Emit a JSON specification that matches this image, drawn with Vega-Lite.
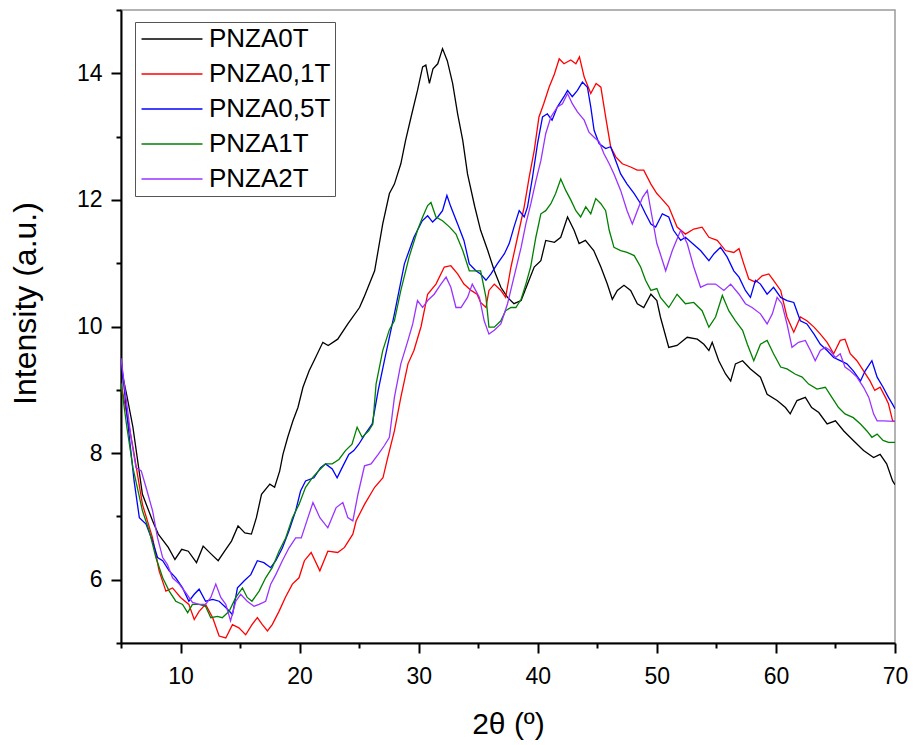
{
"$schema":"https://vega.github.io/schema/vega-lite/v6.json",
"width":774,"height":633,
"autosize":{"type":"none"},
"padding":{"left":121,"top":10,"right":20,"bottom":102},
"background":"white",
"config":{"font":"Liberation Sans","view":{"stroke":"#9a9a9a","strokeWidth":1.5}},
"data":{"values":[
{"s":"PNZA0T","x":5,"y":9.35},{"s":"PNZA0T","x":5.5,"y":8.9},{"s":"PNZA0T","x":6,"y":8.41},{"s":"PNZA0T","x":6.8,"y":7.35},{"s":"PNZA0T","x":7.65,"y":6.93},{"s":"PNZA0T","x":8.13,"y":6.72},{"s":"PNZA0T","x":8.97,"y":6.51},{"s":"PNZA0T","x":9.53,"y":6.32},{"s":"PNZA0T","x":10.1,"y":6.48},{"s":"PNZA0T","x":10.65,"y":6.45},{"s":"PNZA0T","x":11.34,"y":6.27},{"s":"PNZA0T","x":11.9,"y":6.53},{"s":"PNZA0T","x":12.6,"y":6.4},{"s":"PNZA0T","x":13.16,"y":6.3},{"s":"PNZA0T","x":13.7,"y":6.45},{"s":"PNZA0T","x":14.28,"y":6.61},{"s":"PNZA0T","x":14.83,"y":6.85},{"s":"PNZA0T","x":15.4,"y":6.74},{"s":"PNZA0T","x":15.95,"y":6.72},{"s":"PNZA0T","x":16.37,"y":6.98},{"s":"PNZA0T","x":16.8,"y":7.35},{"s":"PNZA0T","x":17.5,"y":7.51},{"s":"PNZA0T","x":17.9,"y":7.46},{"s":"PNZA0T","x":18.33,"y":7.72},{"s":"PNZA0T","x":18.6,"y":7.98},{"s":"PNZA0T","x":19.0,"y":8.25},{"s":"PNZA0T","x":19.44,"y":8.51},{"s":"PNZA0T","x":19.86,"y":8.72},{"s":"PNZA0T","x":20.28,"y":9.04},{"s":"PNZA0T","x":20.8,"y":9.3},{"s":"PNZA0T","x":21.26,"y":9.48},{"s":"PNZA0T","x":21.95,"y":9.75},{"s":"PNZA0T","x":22.4,"y":9.7},{"s":"PNZA0T","x":23.2,"y":9.8},{"s":"PNZA0T","x":24.05,"y":10.04},{"s":"PNZA0T","x":25.03,"y":10.3},{"s":"PNZA0T","x":25.4,"y":10.46},{"s":"PNZA0T","x":26.3,"y":10.88},{"s":"PNZA0T","x":26.98,"y":11.62},{"s":"PNZA0T","x":27.54,"y":12.1},{"s":"PNZA0T","x":27.96,"y":12.25},{"s":"PNZA0T","x":28.5,"y":12.57},{"s":"PNZA0T","x":28.9,"y":12.94},{"s":"PNZA0T","x":29.36,"y":13.31},{"s":"PNZA0T","x":29.9,"y":13.73},{"s":"PNZA0T","x":30.33,"y":14.1},{"s":"PNZA0T","x":30.6,"y":14.13},{"s":"PNZA0T","x":30.9,"y":13.84},{"s":"PNZA0T","x":31.2,"y":14.07},{"s":"PNZA0T","x":31.6,"y":14.15},{"s":"PNZA0T","x":32.0,"y":14.39},{"s":"PNZA0T","x":32.4,"y":14.2},{"s":"PNZA0T","x":32.85,"y":13.84},{"s":"PNZA0T","x":33.27,"y":13.36},{"s":"PNZA0T","x":33.7,"y":12.94},{"s":"PNZA0T","x":34.1,"y":12.41},{"s":"PNZA0T","x":34.7,"y":11.9},{"s":"PNZA0T","x":35.2,"y":11.52},{"s":"PNZA0T","x":35.8,"y":11.2},{"s":"PNZA0T","x":36.35,"y":10.88},{"s":"PNZA0T","x":36.9,"y":10.62},{"s":"PNZA0T","x":37.46,"y":10.46},{"s":"PNZA0T","x":38.0,"y":10.36},{"s":"PNZA0T","x":38.6,"y":10.41},{"s":"PNZA0T","x":39.14,"y":10.67},{"s":"PNZA0T","x":39.7,"y":10.94},{"s":"PNZA0T","x":40.26,"y":11.04},{"s":"PNZA0T","x":40.67,"y":11.36},{"s":"PNZA0T","x":41.4,"y":11.33},{"s":"PNZA0T","x":41.93,"y":11.41},{"s":"PNZA0T","x":42.5,"y":11.73},{"s":"PNZA0T","x":43.05,"y":11.52},{"s":"PNZA0T","x":43.47,"y":11.31},{"s":"PNZA0T","x":44.0,"y":11.36},{"s":"PNZA0T","x":44.7,"y":11.2},{"s":"PNZA0T","x":45.3,"y":10.94},{"s":"PNZA0T","x":45.84,"y":10.67},{"s":"PNZA0T","x":46.26,"y":10.43},{"s":"PNZA0T","x":46.68,"y":10.57},{"s":"PNZA0T","x":47.24,"y":10.65},{"s":"PNZA0T","x":47.8,"y":10.57},{"s":"PNZA0T","x":48.36,"y":10.36},{"s":"PNZA0T","x":48.9,"y":10.3},{"s":"PNZA0T","x":49.5,"y":10.51},{"s":"PNZA0T","x":50.0,"y":10.41},{"s":"PNZA0T","x":50.3,"y":10.15},{"s":"PNZA0T","x":51.0,"y":9.67},{"s":"PNZA0T","x":51.7,"y":9.7},{"s":"PNZA0T","x":52.55,"y":9.83},{"s":"PNZA0T","x":53.4,"y":9.8},{"s":"PNZA0T","x":53.95,"y":9.72},{"s":"PNZA0T","x":54.37,"y":9.62},{"s":"PNZA0T","x":54.65,"y":9.75},{"s":"PNZA0T","x":55.2,"y":9.46},{"s":"PNZA0T","x":55.77,"y":9.25},{"s":"PNZA0T","x":56.2,"y":9.14},{"s":"PNZA0T","x":56.6,"y":9.41},{"s":"PNZA0T","x":57.2,"y":9.46},{"s":"PNZA0T","x":57.86,"y":9.33},{"s":"PNZA0T","x":58.7,"y":9.2},{"s":"PNZA0T","x":59.26,"y":8.93},{"s":"PNZA0T","x":60.1,"y":8.83},{"s":"PNZA0T","x":60.8,"y":8.72},{"s":"PNZA0T","x":61.2,"y":8.62},{"s":"PNZA0T","x":61.77,"y":8.83},{"s":"PNZA0T","x":62.47,"y":8.88},{"s":"PNZA0T","x":63.0,"y":8.72},{"s":"PNZA0T","x":63.6,"y":8.64},{"s":"PNZA0T","x":64.3,"y":8.46},{"s":"PNZA0T","x":65.0,"y":8.51},{"s":"PNZA0T","x":65.7,"y":8.35},{"s":"PNZA0T","x":66.5,"y":8.2},{"s":"PNZA0T","x":67.36,"y":8.04},{"s":"PNZA0T","x":68.2,"y":7.93},{"s":"PNZA0T","x":68.75,"y":7.98},{"s":"PNZA0T","x":69.3,"y":7.83},{"s":"PNZA0T","x":69.8,"y":7.56},{"s":"PNZA0T","x":70,"y":7.5},
{"s":"PNZA0,1T","x":5,"y":9.1},{"s":"PNZA0,1T","x":5.5,"y":8.6},{"s":"PNZA0,1T","x":6,"y":8.1},{"s":"PNZA0,1T","x":6.8,"y":7.19},{"s":"PNZA0,1T","x":7.65,"y":6.66},{"s":"PNZA0,1T","x":8.2,"y":6.14},{"s":"PNZA0,1T","x":8.77,"y":5.82},{"s":"PNZA0,1T","x":9.33,"y":5.87},{"s":"PNZA0,1T","x":10.0,"y":5.72},{"s":"PNZA0,1T","x":10.7,"y":5.61},{"s":"PNZA0,1T","x":11.15,"y":5.37},{"s":"PNZA0,1T","x":11.56,"y":5.5},{"s":"PNZA0,1T","x":12.1,"y":5.61},{"s":"PNZA0,1T","x":12.7,"y":5.4},{"s":"PNZA0,1T","x":13.24,"y":5.11},{"s":"PNZA0,1T","x":13.8,"y":5.08},{"s":"PNZA0,1T","x":14.36,"y":5.29},{"s":"PNZA0,1T","x":14.9,"y":5.24},{"s":"PNZA0,1T","x":15.47,"y":5.13},{"s":"PNZA0,1T","x":16.0,"y":5.29},{"s":"PNZA0,1T","x":16.45,"y":5.4},{"s":"PNZA0,1T","x":16.87,"y":5.29},{"s":"PNZA0,1T","x":17.3,"y":5.19},{"s":"PNZA0,1T","x":17.7,"y":5.29},{"s":"PNZA0,1T","x":18.27,"y":5.5},{"s":"PNZA0,1T","x":18.8,"y":5.72},{"s":"PNZA0,1T","x":19.39,"y":5.93},{"s":"PNZA0,1T","x":19.95,"y":6.03},{"s":"PNZA0,1T","x":20.4,"y":6.3},{"s":"PNZA0,1T","x":20.97,"y":6.43},{"s":"PNZA0,1T","x":21.7,"y":6.14},{"s":"PNZA0,1T","x":22.37,"y":6.45},{"s":"PNZA0,1T","x":23.2,"y":6.43},{"s":"PNZA0,1T","x":23.77,"y":6.51},{"s":"PNZA0,1T","x":24.47,"y":6.72},{"s":"PNZA0,1T","x":24.75,"y":6.93},{"s":"PNZA0,1T","x":25.45,"y":7.19},{"s":"PNZA0,1T","x":26.3,"y":7.46},{"s":"PNZA0,1T","x":27.0,"y":7.61},{"s":"PNZA0,1T","x":27.4,"y":7.93},{"s":"PNZA0,1T","x":27.96,"y":8.35},{"s":"PNZA0,1T","x":28.5,"y":8.88},{"s":"PNZA0,1T","x":29.1,"y":9.41},{"s":"PNZA0,1T","x":29.6,"y":9.62},{"s":"PNZA0,1T","x":30.2,"y":10.0},{"s":"PNZA0,1T","x":30.75,"y":10.51},{"s":"PNZA0,1T","x":31.45,"y":10.67},{"s":"PNZA0,1T","x":32.15,"y":10.94},{"s":"PNZA0,1T","x":32.7,"y":10.96},{"s":"PNZA0,1T","x":33.27,"y":10.83},{"s":"PNZA0,1T","x":33.8,"y":10.67},{"s":"PNZA0,1T","x":34.4,"y":10.57},{"s":"PNZA0,1T","x":34.9,"y":10.51},{"s":"PNZA0,1T","x":35.2,"y":10.38},{"s":"PNZA0,1T","x":35.65,"y":10.3},{"s":"PNZA0,1T","x":35.9,"y":10.57},{"s":"PNZA0,1T","x":36.35,"y":10.67},{"s":"PNZA0,1T","x":36.9,"y":10.57},{"s":"PNZA0,1T","x":37.3,"y":10.46},{"s":"PNZA0,1T","x":37.75,"y":10.94},{"s":"PNZA0,1T","x":38.3,"y":11.41},{"s":"PNZA0,1T","x":38.86,"y":11.89},{"s":"PNZA0,1T","x":39.28,"y":12.36},{"s":"PNZA0,1T","x":39.7,"y":12.78},{"s":"PNZA0,1T","x":40.1,"y":13.31},{"s":"PNZA0,1T","x":40.5,"y":13.52},{"s":"PNZA0,1T","x":40.95,"y":13.78},{"s":"PNZA0,1T","x":41.4,"y":13.99},{"s":"PNZA0,1T","x":41.8,"y":14.23},{"s":"PNZA0,1T","x":42.2,"y":14.15},{"s":"PNZA0,1T","x":42.77,"y":14.21},{"s":"PNZA0,1T","x":43.2,"y":14.15},{"s":"PNZA0,1T","x":43.5,"y":14.26},{"s":"PNZA0,1T","x":43.9,"y":13.94},{"s":"PNZA0,1T","x":44.45,"y":13.68},{"s":"PNZA0,1T","x":44.9,"y":13.84},{"s":"PNZA0,1T","x":45.3,"y":13.78},{"s":"PNZA0,1T","x":45.7,"y":13.31},{"s":"PNZA0,1T","x":46.12,"y":12.84},{"s":"PNZA0,1T","x":46.55,"y":12.68},{"s":"PNZA0,1T","x":47.1,"y":12.57},{"s":"PNZA0,1T","x":47.8,"y":12.52},{"s":"PNZA0,1T","x":48.35,"y":12.47},{"s":"PNZA0,1T","x":48.9,"y":12.47},{"s":"PNZA0,1T","x":49.5,"y":12.25},{"s":"PNZA0,1T","x":50.0,"y":12.1},{"s":"PNZA0,1T","x":50.3,"y":12.04},{"s":"PNZA0,1T","x":51.0,"y":11.89},{"s":"PNZA0,1T","x":51.7,"y":11.57},{"s":"PNZA0,1T","x":52.4,"y":11.46},{"s":"PNZA0,1T","x":53.1,"y":11.54},{"s":"PNZA0,1T","x":53.8,"y":11.57},{"s":"PNZA0,1T","x":54.37,"y":11.41},{"s":"PNZA0,1T","x":55.07,"y":11.36},{"s":"PNZA0,1T","x":55.76,"y":11.2},{"s":"PNZA0,1T","x":56.46,"y":11.17},{"s":"PNZA0,1T","x":56.9,"y":11.23},{"s":"PNZA0,1T","x":57.3,"y":10.99},{"s":"PNZA0,1T","x":57.72,"y":10.75},{"s":"PNZA0,1T","x":58.28,"y":10.7},{"s":"PNZA0,1T","x":58.84,"y":10.8},{"s":"PNZA0,1T","x":59.4,"y":10.83},{"s":"PNZA0,1T","x":59.8,"y":10.73},{"s":"PNZA0,1T","x":60.4,"y":10.57},{"s":"PNZA0,1T","x":60.93,"y":10.15},{"s":"PNZA0,1T","x":61.5,"y":9.91},{"s":"PNZA0,1T","x":62.05,"y":10.15},{"s":"PNZA0,1T","x":62.6,"y":10.09},{"s":"PNZA0,1T","x":63.2,"y":9.99},{"s":"PNZA0,1T","x":63.73,"y":9.88},{"s":"PNZA0,1T","x":64.3,"y":9.75},{"s":"PNZA0,1T","x":64.85,"y":9.57},{"s":"PNZA0,1T","x":65.4,"y":9.78},{"s":"PNZA0,1T","x":65.8,"y":9.8},{"s":"PNZA0,1T","x":66.24,"y":9.57},{"s":"PNZA0,1T","x":66.8,"y":9.46},{"s":"PNZA0,1T","x":67.36,"y":9.3},{"s":"PNZA0,1T","x":67.9,"y":9.14},{"s":"PNZA0,1T","x":68.3,"y":8.99},{"s":"PNZA0,1T","x":68.75,"y":9.04},{"s":"PNZA0,1T","x":69.2,"y":8.88},{"s":"PNZA0,1T","x":69.45,"y":8.78},{"s":"PNZA0,1T","x":69.8,"y":8.51},{"s":"PNZA0,1T","x":70,"y":8.5},
{"s":"PNZA0,5T","x":5,"y":9.5},{"s":"PNZA0,5T","x":5.7,"y":8.25},{"s":"PNZA0,5T","x":6.1,"y":7.56},{"s":"PNZA0,5T","x":6.54,"y":6.98},{"s":"PNZA0,5T","x":7.1,"y":6.88},{"s":"PNZA0,5T","x":7.65,"y":6.61},{"s":"PNZA0,5T","x":8.07,"y":6.35},{"s":"PNZA0,5T","x":8.5,"y":6.3},{"s":"PNZA0,5T","x":9.05,"y":6.14},{"s":"PNZA0,5T","x":9.6,"y":6.03},{"s":"PNZA0,5T","x":10.17,"y":5.87},{"s":"PNZA0,5T","x":10.7,"y":5.66},{"s":"PNZA0,5T","x":11.15,"y":5.77},{"s":"PNZA0,5T","x":11.56,"y":5.85},{"s":"PNZA0,5T","x":12.1,"y":5.66},{"s":"PNZA0,5T","x":12.7,"y":5.69},{"s":"PNZA0,5T","x":13.24,"y":5.66},{"s":"PNZA0,5T","x":13.8,"y":5.56},{"s":"PNZA0,5T","x":14.36,"y":5.45},{"s":"PNZA0,5T","x":14.78,"y":5.87},{"s":"PNZA0,5T","x":15.33,"y":5.98},{"s":"PNZA0,5T","x":15.9,"y":6.08},{"s":"PNZA0,5T","x":16.45,"y":6.3},{"s":"PNZA0,5T","x":17.0,"y":6.27},{"s":"PNZA0,5T","x":17.57,"y":6.19},{"s":"PNZA0,5T","x":18.0,"y":6.3},{"s":"PNZA0,5T","x":18.55,"y":6.5},{"s":"PNZA0,5T","x":19.1,"y":6.77},{"s":"PNZA0,5T","x":19.67,"y":7.09},{"s":"PNZA0,5T","x":20.08,"y":7.4},{"s":"PNZA0,5T","x":20.5,"y":7.56},{"s":"PNZA0,5T","x":21.2,"y":7.61},{"s":"PNZA0,5T","x":21.76,"y":7.77},{"s":"PNZA0,5T","x":22.18,"y":7.83},{"s":"PNZA0,5T","x":22.74,"y":7.75},{"s":"PNZA0,5T","x":23.15,"y":7.61},{"s":"PNZA0,5T","x":23.57,"y":7.77},{"s":"PNZA0,5T","x":24.13,"y":7.98},{"s":"PNZA0,5T","x":24.55,"y":8.04},{"s":"PNZA0,5T","x":24.97,"y":8.14},{"s":"PNZA0,5T","x":25.5,"y":8.3},{"s":"PNZA0,5T","x":26.1,"y":8.46},{"s":"PNZA0,5T","x":26.6,"y":8.99},{"s":"PNZA0,5T","x":27.12,"y":9.46},{"s":"PNZA0,5T","x":27.96,"y":10.2},{"s":"PNZA0,5T","x":28.8,"y":10.99},{"s":"PNZA0,5T","x":29.6,"y":11.41},{"s":"PNZA0,5T","x":30.3,"y":11.67},{"s":"PNZA0,5T","x":30.75,"y":11.75},{"s":"PNZA0,5T","x":31.17,"y":11.65},{"s":"PNZA0,5T","x":31.6,"y":11.73},{"s":"PNZA0,5T","x":32.0,"y":11.83},{"s":"PNZA0,5T","x":32.37,"y":12.07},{"s":"PNZA0,5T","x":32.7,"y":11.89},{"s":"PNZA0,5T","x":33.27,"y":11.62},{"s":"PNZA0,5T","x":33.8,"y":11.36},{"s":"PNZA0,5T","x":34.25,"y":10.99},{"s":"PNZA0,5T","x":34.8,"y":10.88},{"s":"PNZA0,5T","x":35.2,"y":10.83},{"s":"PNZA0,5T","x":35.65,"y":10.73},{"s":"PNZA0,5T","x":36.07,"y":10.83},{"s":"PNZA0,5T","x":36.6,"y":10.99},{"s":"PNZA0,5T","x":37.2,"y":11.15},{"s":"PNZA0,5T","x":37.6,"y":11.31},{"s":"PNZA0,5T","x":38.0,"y":11.57},{"s":"PNZA0,5T","x":38.44,"y":11.83},{"s":"PNZA0,5T","x":38.86,"y":11.73},{"s":"PNZA0,5T","x":39.14,"y":11.89},{"s":"PNZA0,5T","x":39.56,"y":12.36},{"s":"PNZA0,5T","x":39.98,"y":12.89},{"s":"PNZA0,5T","x":40.4,"y":13.31},{"s":"PNZA0,5T","x":40.8,"y":13.36},{"s":"PNZA0,5T","x":41.2,"y":13.26},{"s":"PNZA0,5T","x":41.65,"y":13.47},{"s":"PNZA0,5T","x":42.2,"y":13.63},{"s":"PNZA0,5T","x":42.5,"y":13.73},{"s":"PNZA0,5T","x":42.9,"y":13.63},{"s":"PNZA0,5T","x":43.33,"y":13.73},{"s":"PNZA0,5T","x":43.75,"y":13.86},{"s":"PNZA0,5T","x":44.17,"y":13.78},{"s":"PNZA0,5T","x":44.45,"y":13.47},{"s":"PNZA0,5T","x":44.73,"y":13.1},{"s":"PNZA0,5T","x":45.15,"y":12.89},{"s":"PNZA0,5T","x":45.7,"y":12.81},{"s":"PNZA0,5T","x":46.12,"y":12.84},{"s":"PNZA0,5T","x":46.55,"y":12.62},{"s":"PNZA0,5T","x":46.96,"y":12.41},{"s":"PNZA0,5T","x":47.5,"y":12.25},{"s":"PNZA0,5T","x":48.1,"y":12.1},{"s":"PNZA0,5T","x":48.64,"y":11.94},{"s":"PNZA0,5T","x":49.05,"y":11.78},{"s":"PNZA0,5T","x":49.5,"y":11.62},{"s":"PNZA0,5T","x":49.9,"y":11.57},{"s":"PNZA0,5T","x":50.46,"y":11.78},{"s":"PNZA0,5T","x":51.0,"y":11.73},{"s":"PNZA0,5T","x":51.4,"y":11.52},{"s":"PNZA0,5T","x":52.0,"y":11.36},{"s":"PNZA0,5T","x":52.4,"y":11.41},{"s":"PNZA0,5T","x":53.0,"y":11.31},{"s":"PNZA0,5T","x":53.67,"y":11.2},{"s":"PNZA0,5T","x":54.37,"y":11.04},{"s":"PNZA0,5T","x":54.8,"y":11.15},{"s":"PNZA0,5T","x":55.35,"y":11.25},{"s":"PNZA0,5T","x":55.9,"y":11.1},{"s":"PNZA0,5T","x":56.46,"y":10.88},{"s":"PNZA0,5T","x":56.9,"y":10.78},{"s":"PNZA0,5T","x":57.44,"y":10.57},{"s":"PNZA0,5T","x":57.86,"y":10.46},{"s":"PNZA0,5T","x":58.28,"y":10.73},{"s":"PNZA0,5T","x":58.7,"y":10.67},{"s":"PNZA0,5T","x":59.26,"y":10.51},{"s":"PNZA0,5T","x":59.8,"y":10.62},{"s":"PNZA0,5T","x":60.4,"y":10.46},{"s":"PNZA0,5T","x":60.93,"y":10.41},{"s":"PNZA0,5T","x":61.5,"y":10.38},{"s":"PNZA0,5T","x":62.05,"y":10.09},{"s":"PNZA0,5T","x":62.6,"y":10.04},{"s":"PNZA0,5T","x":63.2,"y":9.88},{"s":"PNZA0,5T","x":63.73,"y":9.72},{"s":"PNZA0,5T","x":64.3,"y":9.62},{"s":"PNZA0,5T","x":64.85,"y":9.51},{"s":"PNZA0,5T","x":65.4,"y":9.46},{"s":"PNZA0,5T","x":65.96,"y":9.41},{"s":"PNZA0,5T","x":66.5,"y":9.3},{"s":"PNZA0,5T","x":67.1,"y":9.14},{"s":"PNZA0,5T","x":67.5,"y":9.3},{"s":"PNZA0,5T","x":68.06,"y":9.46},{"s":"PNZA0,5T","x":68.5,"y":9.2},{"s":"PNZA0,5T","x":69.0,"y":9.04},{"s":"PNZA0,5T","x":69.45,"y":8.88},{"s":"PNZA0,5T","x":69.8,"y":8.77},{"s":"PNZA0,5T","x":70,"y":8.7},
{"s":"PNZA1T","x":5,"y":9.1},{"s":"PNZA1T","x":5.5,"y":8.4},{"s":"PNZA1T","x":6.0,"y":7.77},{"s":"PNZA1T","x":6.8,"y":7.09},{"s":"PNZA1T","x":7.37,"y":6.77},{"s":"PNZA1T","x":7.93,"y":6.35},{"s":"PNZA1T","x":8.5,"y":6.03},{"s":"PNZA1T","x":9.05,"y":5.82},{"s":"PNZA1T","x":9.6,"y":5.66},{"s":"PNZA1T","x":10.17,"y":5.61},{"s":"PNZA1T","x":10.6,"y":5.48},{"s":"PNZA1T","x":11.0,"y":5.61},{"s":"PNZA1T","x":11.56,"y":5.61},{"s":"PNZA1T","x":12.1,"y":5.58},{"s":"PNZA1T","x":12.54,"y":5.4},{"s":"PNZA1T","x":13.1,"y":5.42},{"s":"PNZA1T","x":13.5,"y":5.4},{"s":"PNZA1T","x":14.08,"y":5.5},{"s":"PNZA1T","x":14.64,"y":5.72},{"s":"PNZA1T","x":15.2,"y":5.87},{"s":"PNZA1T","x":15.6,"y":5.72},{"s":"PNZA1T","x":16.0,"y":5.66},{"s":"PNZA1T","x":16.6,"y":5.82},{"s":"PNZA1T","x":17.15,"y":6.03},{"s":"PNZA1T","x":17.7,"y":6.19},{"s":"PNZA1T","x":18.27,"y":6.45},{"s":"PNZA1T","x":18.83,"y":6.66},{"s":"PNZA1T","x":19.4,"y":6.98},{"s":"PNZA1T","x":19.95,"y":7.19},{"s":"PNZA1T","x":20.5,"y":7.46},{"s":"PNZA1T","x":21.06,"y":7.61},{"s":"PNZA1T","x":21.6,"y":7.72},{"s":"PNZA1T","x":22.18,"y":7.83},{"s":"PNZA1T","x":22.74,"y":7.83},{"s":"PNZA1T","x":23.3,"y":7.9},{"s":"PNZA1T","x":23.85,"y":8.04},{"s":"PNZA1T","x":24.4,"y":8.14},{"s":"PNZA1T","x":24.83,"y":8.41},{"s":"PNZA1T","x":25.25,"y":8.25},{"s":"PNZA1T","x":25.8,"y":8.35},{"s":"PNZA1T","x":26.15,"y":8.46},{"s":"PNZA1T","x":26.42,"y":9.09},{"s":"PNZA1T","x":26.98,"y":9.62},{"s":"PNZA1T","x":27.54,"y":9.95},{"s":"PNZA1T","x":27.96,"y":10.09},{"s":"PNZA1T","x":28.5,"y":10.57},{"s":"PNZA1T","x":29.2,"y":11.1},{"s":"PNZA1T","x":29.9,"y":11.52},{"s":"PNZA1T","x":30.33,"y":11.73},{"s":"PNZA1T","x":30.75,"y":11.91},{"s":"PNZA1T","x":31.03,"y":11.96},{"s":"PNZA1T","x":31.45,"y":11.73},{"s":"PNZA1T","x":32.0,"y":11.67},{"s":"PNZA1T","x":32.6,"y":11.57},{"s":"PNZA1T","x":33.13,"y":11.46},{"s":"PNZA1T","x":33.7,"y":11.2},{"s":"PNZA1T","x":34.25,"y":10.88},{"s":"PNZA1T","x":34.8,"y":10.88},{"s":"PNZA1T","x":35.2,"y":10.88},{"s":"PNZA1T","x":35.65,"y":10.46},{"s":"PNZA1T","x":35.9,"y":9.99},{"s":"PNZA1T","x":36.35,"y":9.99},{"s":"PNZA1T","x":36.9,"y":10.09},{"s":"PNZA1T","x":37.3,"y":10.25},{"s":"PNZA1T","x":37.75,"y":10.3},{"s":"PNZA1T","x":38.16,"y":10.3},{"s":"PNZA1T","x":38.6,"y":10.43},{"s":"PNZA1T","x":39.0,"y":10.67},{"s":"PNZA1T","x":39.4,"y":10.94},{"s":"PNZA1T","x":39.84,"y":11.41},{"s":"PNZA1T","x":40.26,"y":11.78},{"s":"PNZA1T","x":40.67,"y":11.83},{"s":"PNZA1T","x":41.1,"y":11.94},{"s":"PNZA1T","x":41.5,"y":12.1},{"s":"PNZA1T","x":41.93,"y":12.33},{"s":"PNZA1T","x":42.35,"y":12.15},{"s":"PNZA1T","x":42.77,"y":12.0},{"s":"PNZA1T","x":43.2,"y":11.83},{"s":"PNZA1T","x":43.6,"y":11.73},{"s":"PNZA1T","x":44.03,"y":11.89},{"s":"PNZA1T","x":44.45,"y":11.78},{"s":"PNZA1T","x":44.87,"y":12.02},{"s":"PNZA1T","x":45.3,"y":11.94},{"s":"PNZA1T","x":45.7,"y":11.83},{"s":"PNZA1T","x":46.0,"y":11.52},{"s":"PNZA1T","x":46.4,"y":11.25},{"s":"PNZA1T","x":46.96,"y":11.2},{"s":"PNZA1T","x":47.5,"y":11.17},{"s":"PNZA1T","x":48.1,"y":11.12},{"s":"PNZA1T","x":48.64,"y":10.94},{"s":"PNZA1T","x":49.05,"y":10.73},{"s":"PNZA1T","x":49.5,"y":10.57},{"s":"PNZA1T","x":50.0,"y":10.6},{"s":"PNZA1T","x":50.3,"y":10.46},{"s":"PNZA1T","x":51.0,"y":10.3},{"s":"PNZA1T","x":51.7,"y":10.51},{"s":"PNZA1T","x":52.4,"y":10.36},{"s":"PNZA1T","x":53.1,"y":10.38},{"s":"PNZA1T","x":53.8,"y":10.25},{"s":"PNZA1T","x":54.37,"y":9.99},{"s":"PNZA1T","x":54.93,"y":10.15},{"s":"PNZA1T","x":55.5,"y":10.49},{"s":"PNZA1T","x":56.04,"y":10.25},{"s":"PNZA1T","x":56.6,"y":10.09},{"s":"PNZA1T","x":57.2,"y":9.94},{"s":"PNZA1T","x":57.6,"y":9.72},{"s":"PNZA1T","x":58.14,"y":9.46},{"s":"PNZA1T","x":58.7,"y":9.72},{"s":"PNZA1T","x":59.26,"y":9.78},{"s":"PNZA1T","x":59.8,"y":9.57},{"s":"PNZA1T","x":60.4,"y":9.36},{"s":"PNZA1T","x":60.93,"y":9.33},{"s":"PNZA1T","x":61.6,"y":9.25},{"s":"PNZA1T","x":62.2,"y":9.2},{"s":"PNZA1T","x":62.75,"y":9.09},{"s":"PNZA1T","x":63.45,"y":9.01},{"s":"PNZA1T","x":64.15,"y":9.04},{"s":"PNZA1T","x":64.7,"y":8.88},{"s":"PNZA1T","x":65.26,"y":8.72},{"s":"PNZA1T","x":65.8,"y":8.62},{"s":"PNZA1T","x":66.5,"y":8.56},{"s":"PNZA1T","x":67.1,"y":8.46},{"s":"PNZA1T","x":67.64,"y":8.35},{"s":"PNZA1T","x":68.06,"y":8.25},{"s":"PNZA1T","x":68.5,"y":8.3},{"s":"PNZA1T","x":69.0,"y":8.2},{"s":"PNZA1T","x":69.45,"y":8.17},{"s":"PNZA1T","x":70,"y":8.17},
{"s":"PNZA2T","x":5,"y":9.5},{"s":"PNZA2T","x":5.84,"y":8.25},{"s":"PNZA2T","x":6.26,"y":7.77},{"s":"PNZA2T","x":6.7,"y":7.72},{"s":"PNZA2T","x":7.1,"y":7.46},{"s":"PNZA2T","x":7.65,"y":7.09},{"s":"PNZA2T","x":8.07,"y":6.66},{"s":"PNZA2T","x":8.5,"y":6.35},{"s":"PNZA2T","x":8.9,"y":6.24},{"s":"PNZA2T","x":9.33,"y":6.03},{"s":"PNZA2T","x":9.9,"y":5.93},{"s":"PNZA2T","x":10.45,"y":5.79},{"s":"PNZA2T","x":11.0,"y":5.64},{"s":"PNZA2T","x":11.56,"y":5.61},{"s":"PNZA2T","x":12.1,"y":5.61},{"s":"PNZA2T","x":12.54,"y":5.72},{"s":"PNZA2T","x":12.96,"y":5.93},{"s":"PNZA2T","x":13.38,"y":5.72},{"s":"PNZA2T","x":13.8,"y":5.61},{"s":"PNZA2T","x":14.2,"y":5.35},{"s":"PNZA2T","x":14.64,"y":5.66},{"s":"PNZA2T","x":15.05,"y":5.77},{"s":"PNZA2T","x":15.6,"y":5.66},{"s":"PNZA2T","x":16.17,"y":5.58},{"s":"PNZA2T","x":16.6,"y":5.61},{"s":"PNZA2T","x":17.15,"y":5.66},{"s":"PNZA2T","x":17.57,"y":5.93},{"s":"PNZA2T","x":18.0,"y":6.08},{"s":"PNZA2T","x":18.55,"y":6.3},{"s":"PNZA2T","x":19.1,"y":6.5},{"s":"PNZA2T","x":19.67,"y":6.66},{"s":"PNZA2T","x":20.14,"y":6.66},{"s":"PNZA2T","x":20.7,"y":6.98},{"s":"PNZA2T","x":21.12,"y":7.22},{"s":"PNZA2T","x":21.7,"y":6.98},{"s":"PNZA2T","x":22.37,"y":6.82},{"s":"PNZA2T","x":23.07,"y":7.14},{"s":"PNZA2T","x":23.63,"y":7.22},{"s":"PNZA2T","x":24.05,"y":6.98},{"s":"PNZA2T","x":24.47,"y":6.93},{"s":"PNZA2T","x":24.9,"y":7.35},{"s":"PNZA2T","x":25.45,"y":7.8},{"s":"PNZA2T","x":26.0,"y":7.83},{"s":"PNZA2T","x":26.6,"y":7.98},{"s":"PNZA2T","x":27.12,"y":8.12},{"s":"PNZA2T","x":27.54,"y":8.25},{"s":"PNZA2T","x":27.96,"y":8.88},{"s":"PNZA2T","x":28.5,"y":9.41},{"s":"PNZA2T","x":29.1,"y":9.78},{"s":"PNZA2T","x":29.5,"y":10.04},{"s":"PNZA2T","x":29.9,"y":10.41},{"s":"PNZA2T","x":30.33,"y":10.3},{"s":"PNZA2T","x":30.75,"y":10.41},{"s":"PNZA2T","x":31.3,"y":10.51},{"s":"PNZA2T","x":31.87,"y":10.67},{"s":"PNZA2T","x":32.3,"y":10.78},{"s":"PNZA2T","x":32.7,"y":10.62},{"s":"PNZA2T","x":33.13,"y":10.3},{"s":"PNZA2T","x":33.55,"y":10.3},{"s":"PNZA2T","x":34.1,"y":10.46},{"s":"PNZA2T","x":34.5,"y":10.67},{"s":"PNZA2T","x":35.1,"y":10.46},{"s":"PNZA2T","x":35.5,"y":10.09},{"s":"PNZA2T","x":35.9,"y":9.88},{"s":"PNZA2T","x":36.35,"y":9.94},{"s":"PNZA2T","x":36.9,"y":10.04},{"s":"PNZA2T","x":37.46,"y":10.36},{"s":"PNZA2T","x":38.0,"y":10.78},{"s":"PNZA2T","x":38.6,"y":11.25},{"s":"PNZA2T","x":39.0,"y":11.62},{"s":"PNZA2T","x":39.42,"y":11.94},{"s":"PNZA2T","x":39.84,"y":12.3},{"s":"PNZA2T","x":40.26,"y":12.62},{"s":"PNZA2T","x":40.67,"y":13.05},{"s":"PNZA2T","x":41.1,"y":13.31},{"s":"PNZA2T","x":41.65,"y":13.47},{"s":"PNZA2T","x":42.07,"y":13.52},{"s":"PNZA2T","x":42.5,"y":13.68},{"s":"PNZA2T","x":42.9,"y":13.52},{"s":"PNZA2T","x":43.33,"y":13.39},{"s":"PNZA2T","x":43.9,"y":13.26},{"s":"PNZA2T","x":44.3,"y":13.07},{"s":"PNZA2T","x":44.73,"y":12.99},{"s":"PNZA2T","x":45.15,"y":12.92},{"s":"PNZA2T","x":45.56,"y":12.73},{"s":"PNZA2T","x":46.0,"y":12.57},{"s":"PNZA2T","x":46.4,"y":12.41},{"s":"PNZA2T","x":46.96,"y":12.15},{"s":"PNZA2T","x":47.5,"y":11.83},{"s":"PNZA2T","x":47.94,"y":11.62},{"s":"PNZA2T","x":48.36,"y":11.83},{"s":"PNZA2T","x":48.8,"y":12.04},{"s":"PNZA2T","x":49.2,"y":12.15},{"s":"PNZA2T","x":49.6,"y":11.73},{"s":"PNZA2T","x":50.0,"y":11.31},{"s":"PNZA2T","x":50.2,"y":11.2},{"s":"PNZA2T","x":50.74,"y":10.88},{"s":"PNZA2T","x":51.3,"y":11.2},{"s":"PNZA2T","x":52.0,"y":11.52},{"s":"PNZA2T","x":52.55,"y":11.31},{"s":"PNZA2T","x":53.1,"y":10.94},{"s":"PNZA2T","x":53.67,"y":10.62},{"s":"PNZA2T","x":54.23,"y":10.67},{"s":"PNZA2T","x":54.93,"y":10.67},{"s":"PNZA2T","x":55.63,"y":10.57},{"s":"PNZA2T","x":56.2,"y":10.67},{"s":"PNZA2T","x":56.9,"y":10.51},{"s":"PNZA2T","x":57.44,"y":10.36},{"s":"PNZA2T","x":58.0,"y":10.3},{"s":"PNZA2T","x":58.7,"y":10.2},{"s":"PNZA2T","x":59.26,"y":10.04},{"s":"PNZA2T","x":59.7,"y":10.2},{"s":"PNZA2T","x":60.1,"y":10.46},{"s":"PNZA2T","x":60.5,"y":10.36},{"s":"PNZA2T","x":60.93,"y":10.04},{"s":"PNZA2T","x":61.35,"y":9.67},{"s":"PNZA2T","x":61.9,"y":9.75},{"s":"PNZA2T","x":62.47,"y":9.78},{"s":"PNZA2T","x":62.9,"y":9.62},{"s":"PNZA2T","x":63.3,"y":9.46},{"s":"PNZA2T","x":63.73,"y":9.62},{"s":"PNZA2T","x":64.15,"y":9.67},{"s":"PNZA2T","x":64.56,"y":9.62},{"s":"PNZA2T","x":65.0,"y":9.51},{"s":"PNZA2T","x":65.4,"y":9.57},{"s":"PNZA2T","x":65.8,"y":9.36},{"s":"PNZA2T","x":66.24,"y":9.3},{"s":"PNZA2T","x":66.8,"y":9.2},{"s":"PNZA2T","x":67.36,"y":9.04},{"s":"PNZA2T","x":67.8,"y":8.88},{"s":"PNZA2T","x":68.2,"y":8.62},{"s":"PNZA2T","x":68.5,"y":8.51},{"s":"PNZA2T","x":69.0,"y":8.51},{"s":"PNZA2T","x":70,"y":8.5}
]},
"mark":{"type":"line","strokeWidth":1.3,"clip":true},
"encoding":{
  "x":{"field":"x","type":"quantitative","scale":{"domain":[5,70],"nice":false,"zero":false},
   "axis":{"values":[5,10,15,20,25,30,35,40,45,50,55,60,65,70],"labelExpr":"datum.value % 10 == 0 ? datum.label : ''","grid":false,"domainColor":"black","domainWidth":2,"tickColor":"black","tickWidth":2,"tickSize":10,"tickDash":{"condition":{"test":"datum.value % 10 != 0","value":[5,30]},"value":[]},"labelFontSize":23,"labelColor":"black","labelPadding":12,"labelFlush":false,"labelOverlap":false,"title":"2θ (º)","titleFontSize":30,"titleFontWeight":"normal","titleColor":"black","titleBaseline":"alphabetic","titleY":90}},
  "y":{"field":"y","type":"quantitative","scale":{"domain":[5,15],"nice":false,"zero":false},
   "axis":{"values":[5,6,7,8,9,10,11,12,13,14,15],"labelExpr":"datum.value % 2 == 0 ? datum.label : ''","grid":false,"domainColor":"black","domainWidth":2,"tickColor":"black","tickWidth":2,"tickSize":10,"tickDash":{"condition":{"test":"datum.value % 2 != 0","value":[5,30]},"value":[]},"labelFontSize":23,"labelColor":"black","labelPadding":9,"labelFlush":false,"labelOverlap":false,"title":"Intensity (a.u.)","titleFontSize":32,"titleFontWeight":"normal","titleColor":"black","titleBaseline":"alphabetic","titleAngle":-90,"titleAlign":"center","titleX":-86,"titleY":293}},
  "color":{"field":"s","type":"nominal","scale":{"domain":["PNZA0T","PNZA0,1T","PNZA0,5T","PNZA1T","PNZA2T"],"range":["#000000","#ff0000","#0000ff","#008000","#9933ff"]},
   "legend":{"title":null,"orient":"none","legendX":14,"legendY":12,"symbolType":"M-3,0H3","symbolSize":413,"symbolStrokeWidth":1.5,"symbolOffset":20,"labelFontSize":26,"labelColor":"black","labelOffset":24,"rowPadding":9,"padding":4,"strokeColor":"#555555","fillColor":"white","labelLimit":300}}
}
}
